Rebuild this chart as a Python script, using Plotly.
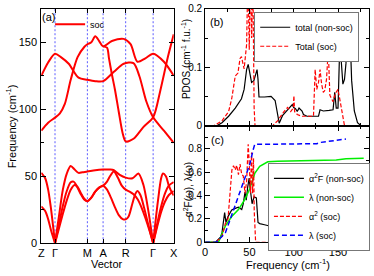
import plotly.graph_objects as go

W, H = 374, 276
FONT = "Liberation Sans, Arial, sans-serif"

# ---------------- Panel (a): phonon band structure (soc) ----------------
K_TICKS = [0, 14, 47, 63, 86, 114, 135]
K_LABELS = ["Z", "Γ", "M", "A", "R", "Γ", "X"]
FREQ_MAX = 175

U1_K = [0, 7, 14, 20, 28, 38, 47, 55, 63, 74, 84, 94, 100, 107, 114, 125, 135]
U1_F = [125, 135, 141.5, 139, 134, 123.6, 122, 121, 121, 128, 134, 134.5, 124.7, 106, 94, 84, 75]

UA_K = [0, 7, 14, 19, 24, 30, 37, 44, 47, 51, 55, 59, 63, 72, 84, 91, 98, 106, 114, 125, 135]
UA_F = [84, 90, 93.8, 97, 104, 122, 139, 146.7, 148.6, 150, 154.5, 151, 147, 151, 152.6, 148.6, 135.5, 138, 141.5, 135.5, 125]

UB_K = [63, 67, 69, 72, 75, 79, 83, 86, 94, 104, 114, 121, 129, 135]
UB_F = [147, 146, 138, 126, 115, 98, 82, 76, 78, 86.7, 94, 113, 139, 156]

L1_K = [0, 4, 7, 9.5, 12, 14, None, 14, 18, 22, 26, 30, 34, 38, 42, 47, 55, 63, 70, 74, 80, 86, 93,
        99, 104, 109, 114, None, 114, 117, 120, 122, 124, 127, 130, 133, 135]
L1_F = [52.6, 48.5, 40, 28, 13, 0, None, 0, 20, 40, 52, 57.6, 55, 52.5, 53, 53.5, 54.5, 55, 55, 54.5, 51, 49, 48.5,
        52, 43.8, 24.7, 0, None, 0, 20, 38, 48, 52, 50, 43, 38, 35.7]

L2_K = [0, 4, 7, 10, 14, None, 14, 18, 22, 26, 30, 33, 36, 40, 44, 47, 51, 55, 59, 63, 67, 70, 74, 78, 82,
        86, 90, 94, 98, 102, 106, 110, 114, None, 114, 118, 122, 126, 130, 135]
L2_F = [27.5, 24, 18, 9.5, 0, None, 0, 14, 28, 39, 45.5, 46, 43, 37, 32.5, 31.4, 34, 38.5, 41.5, 43, 46, 50, 53.5, 49, 43,
        40, 38.5, 36.5, 33, 27, 19, 10, 0, None, 0, 14, 27, 37, 43, 45.7]

L3_K = [14, 18, 22, 26, 30, 34, 37, 41, 44, 47, 51, 55, 59, 63, 67, 71, 75, 79, 83, 86, 89, 93, 96, 98,
        101, 105, 109, 114, None, 114, 118, 122, 126, 130, 135]
L3_F = [0, 11, 22, 32, 40, 43.5, 42, 36.5, 33, 31.4, 34, 38.5, 41.5, 43, 40, 34, 27, 21, 18, 17.8, 20, 30, 37, 39,
        36, 26, 14, 0, None, 0, 12, 23, 31, 36, 39]

BANDS = [(U1_K, U1_F), (UA_K, UA_F), (UB_K, UB_F), (L1_K, L1_F), (L2_K, L2_F), (L3_K, L3_F)]

# ---------------- Panel (b): PDOS ----------------
PDOS_NS_F = [0, 13.6, 19, 26.5, 34, 41, 44, 46.8, 48.6, 51.2, 52.4, 55, 57, 58.6, 59.7, 60.8, 67, 74.4, 79, 82,
             83.6, 87.3, 93, 98.4, 100, 102, 104, 106, 109.4, 111, 115, 122, 128, 129.7, 133.4, 140, 144.4, 146.3,
             148, 150, 151.8, 153.6, 155.5, 157.3, 159, 161.7, 163.5, 165.4, 168.4, 172, 175.7]
PDOS_NS = [0, 0, 0.005, 0.016, 0.030, 0.046, 0.062, 0.096, 0.105, 0.087, 0.074, 0.077, 0.087, 0.096, 0.079, 0.049,
           0.049, 0.050, 0.043, 0.019, 0.004, 0.017, 0.027, 0.036, 0.031, 0.029, 0.024, 0.030, 0.025, 0.019, 0.016,
           0.016, 0.016, 0.027, 0.025, 0.026, 0.027, 0.057, 0.03, 0.03, 0.128, 0.112, 0.071, 0.079, 0.107, 0.19,
           0.162, 0.077, 0.025, 0.005, 0]

PDOS_SOC_F = [0, 10, 19, 26.5, 30, 34, 37, 39.4, 41, 44, 46.8, 48.3, 49.8, 51.2, 52.5, 53.8, 55.3, 56.3, 76.2,
              81.7, 89, 93, 96.6, 99.5, 100.2, 101, 104, 109, 122.3, 124.2, 126, 128, 129.7, 131.5, 133.4, 135,
              137, 139, 140.8, 144.4, 147, 150, 152.5, 155.5, 157.3]
PDOS_SOC = [0, 0, 0.008, 0.024, 0.046, 0.085, 0.090, 0.115, 0.118, 0.097, 0.139, 0.26, 0.13, 0.26, 0.15, 0.26,
            0.03, 0, 0, 0.008, 0.024, 0.031, 0.024, 0.03, 0.051, 0.024, 0.019, 0.016, 0.016, 0.096, 0.062, 0.074,
            0.096, 0.071, 0.057, 0.06, 0.079, 0.131, 0.052, 0.041, 0.055, 0.062, 0.041, 0.019, 0]

# ---------------- Panel (c): Eliashberg function and lambda ----------------
A2F_NS_F = [0, 11.8, 17.3, 19, 22, 23.5, 25.8, 30, 33.9, 37.6, 41.3, 43, 45, 46.4, 48, 49.7, 51, 53, 55.2, 57.8,
            59.7, 61.6, 67, 72.6, 78, 81, 82.5, 85, 93, 100, 110, 120, 130, 137, 144.4, 147.3, 150, 153.6, 156,
            158, 160, 162, 164, 167, 174]
A2F_NS = [0, 0, 0.044, 0.08, 0.255, 0.17, 0.22, 0.277, 0.29, 0.30, 0.28, 0.33, 0.43, 0.36, 0.47, 0.55, 0.45,
          0.33, 0.39, 0.38, 0.17, 0.16, 0.15, 0.14, 0.10, 0.085, 0.01, 0, 0.01, 0.015, 0.01, 0.02, 0.02, 0.025,
          0.035, 0.07, 0.035, 0.05, 0.08, 0.14, 0.22, 0.14, 0.05, 0.02, 0]

LAM_NS_F = [0, 15, 22.8, 30, 37.6, 45, 50.5, 56, 61.6, 70.7, 81.7, 111, 148, 159, 179]
LAM_NS = [0, 0, 0.14, 0.22, 0.28, 0.37, 0.46, 0.59, 0.65, 0.69, 0.695, 0.70, 0.705, 0.715, 0.72]

A2F_SOC_F = [0, 12, 19, 22.8, 25.8, 28.4, 30.2, 32, 34, 35.6, 37.6, 39.4, 41.3, 43, 45, 46.8, 48.6, 49.7, 51.2,
             52.4, 53.5, 54.6, 55.4, 57, 80, 93, 111, 116, 118.6, 121.5, 124, 126.8, 129.7, 131.5, 133.4, 135,
             137, 139, 140.5, 142.6, 146.3, 150, 153.6]
A2F_SOC = [0, 0, 0.05, 0.16, 0.2, 0.415, 0.62, 0.655, 0.62, 0.66, 0.58, 0.67, 0.58, 0.57, 0.42, 0.52, 0.84, 0.69,
           0.42, 0.77, 0.42, 0.72, 0.27, 0, 0, 0.01, 0.02, 0.03, 0.087, 0.1, 0.06, 0.095, 0.075, 0.14, 0.08, 0.035,
           0.06, 0.155, 0.05, 0.045, 0.075, 0.045, 0]

LAM_SOC_F = [0, 12.5, 22.8, 28, 34, 37.6, 41.3, 46.8, 50.5, 54.1, 56, 74.4, 126, 129.7, 159]
LAM_SOC = [0, 0, 0.08, 0.19, 0.32, 0.40, 0.48, 0.58, 0.67, 0.79, 0.84, 0.84, 0.845, 0.855, 0.885]

# ---------------- Figure ----------------
fig = go.Figure()

# dotted guide lines at the inner high-symmetry points (drawn on the data axes)
guide_x, guide_y = [], []
for k in K_TICKS[1:-1]:
    guide_x += [k, k, None]
    guide_y += [0, FREQ_MAX, None]
fig.add_trace(go.Scatter(x=guide_x, y=guide_y, mode="lines", showlegend=False, hoverinfo="skip",
                         line=dict(color="#5c5cff", width=1, dash="2px,2px"), xaxis="x", yaxis="y"))

for i, (k, f) in enumerate(BANDS):
    fig.add_trace(go.Scatter(x=k, y=f, mode="lines", line=dict(color="#ff0000", width=2, shape="spline", smoothing=0.8),
                             name="soc", showlegend=(i == 0), legend="legend",
                             xaxis="x", yaxis="y", hoverinfo="skip"))

fig.add_trace(go.Scatter(x=PDOS_NS_F, y=PDOS_NS, mode="lines", line=dict(color="black", width=1.2),
                         name="total (non-soc)", legend="legend2", xaxis="x2", yaxis="y2"))
fig.add_trace(go.Scatter(x=PDOS_SOC_F, y=PDOS_SOC, mode="lines", line=dict(color="#ff0000", width=1.2, dash="4px,2px"),
                         name="Total (soc)", legend="legend2", xaxis="x2", yaxis="y2"))

fig.add_trace(go.Scatter(x=A2F_NS_F, y=A2F_NS, mode="lines", line=dict(color="black", width=1.2),
                         name="α<sup>2</sup>F (non-soc)", legend="legend3", xaxis="x3", yaxis="y3"))
fig.add_trace(go.Scatter(x=LAM_NS_F, y=LAM_NS, mode="lines", line=dict(color="#00ee00", width=1.5),
                         name="λ (non-soc)", legend="legend3", xaxis="x3", yaxis="y3"))
fig.add_trace(go.Scatter(x=A2F_SOC_F, y=A2F_SOC, mode="lines", line=dict(color="#ff0000", width=1.2, dash="4px,2px"),
                         name="α<sup>2</sup> (soc)", legend="legend3", xaxis="x3", yaxis="y3"))
fig.add_trace(go.Scatter(x=LAM_SOC_F, y=LAM_SOC, mode="lines", line=dict(color="#0000ff", width=1.5, dash="5px,3px"),
                         name="λ (soc)", legend="legend3", xaxis="x3", yaxis="y3"))

def fx(p):
    return p / W

def fy(p):
    return 1 - p / H

axis_common = dict(showline=True, linecolor="black", linewidth=1, mirror="ticks", ticks="inside",
                   tickcolor="black", zeroline=False, showgrid=False, ticklabeloverflow="allow",
                   tickfont=dict(family=FONT, size=11, color="black"))

fig.update_layout(
    width=W, height=H, margin=dict(l=0, r=0, t=0, b=0),
    paper_bgcolor="white", plot_bgcolor="white",
    font=dict(family=FONT, color="black"),
    xaxis=dict(axis_common, domain=[fx(39), fx(174)], range=[0, 135], tickvals=K_TICKS, ticktext=K_LABELS,
               ticklen=4, ticklabelstandoff=0),
    yaxis=dict(axis_common, domain=[fy(248), fy(3)], range=[0, FREQ_MAX], tickvals=[0, 50, 100, 150], ticklen=5,
               minor=dict(ticks="inside", dtick=25, ticklen=3, tickcolor="black"), ticklabelstandoff=1),
    xaxis2=dict(axis_common, domain=[fx(206), fx(373)], range=[0, 185], tickvals=[0, 50, 100, 150],
                showticklabels=False, ticklen=5, anchor="y2",
                minor=dict(ticks="inside", dtick=25, ticklen=3, tickcolor="black")),
    yaxis2=dict(axis_common, domain=[fy(125), fy(3)], range=[0, 0.2], tickvals=[0, 0.1, 0.2],
                ticktext=["0", "0.1", "0.2"], ticklen=5, anchor="x2",
                tickfont=dict(family=FONT, size=10, color="black"),
                minor=dict(ticks="inside", dtick=0.05, ticklen=3, tickcolor="black")),
    xaxis3=dict(axis_common, domain=[fx(206), fx(373)], range=[0, 185], tickvals=[0, 50, 100, 150],
                ticklen=5, anchor="y3", ticklabelstandoff=0,
                minor=dict(ticks="inside", dtick=25, ticklen=3, tickcolor="black")),
    yaxis3=dict(axis_common, domain=[fy(247), fy(125)], range=[0, 1], tickvals=[0, 0.2, 0.4, 0.6, 0.8, 1.0],
                ticktext=["0", "0.2", "0.4", "0.6", "0.8", ""], ticklen=5, anchor="x3",
                tickfont=dict(family=FONT, size=10, color="black"),
                minor=dict(ticks="inside", dtick=0.1, ticklen=3, tickcolor="black")),
    legend=dict(x=fx(48), y=fy(4), xanchor="left", yanchor="top", bgcolor="rgba(0,0,0,0)",
                borderwidth=0, font=dict(family=FONT, size=9, color="black")),
    legend2=dict(x=fx(256), y=fy(6), xanchor="left", yanchor="top", bgcolor="white",
                 bordercolor="#777777", borderwidth=1, font=dict(family=FONT, size=9, color="black"),
                 tracegroupgap=0),
    legend3=dict(x=fx(270), y=fy(164), xanchor="left", yanchor="top", bgcolor="white",
                 bordercolor="#777777", borderwidth=1, font=dict(family=FONT, size=9, color="black"),
                 tracegroupgap=0),
    showlegend=True,
)

ann = [
    dict(text="(a)", x=fx(46), y=fy(11), font=dict(size=11)),
    dict(text="(b)", x=fx(218), y=fy(17), font=dict(size=11)),
    dict(text="(c)", x=fx(219), y=fy(140), font=dict(size=11)),
    dict(text="Frequency (cm<sup>-1</sup>)", x=fx(8), y=fy(126), textangle=-90, font=dict(size=11)),
    dict(text="Vector", x=fx(106), y=fy(269.5), font=dict(size=11)),
    dict(text="Frequency (cm<sup>-1</sup>)", x=fx(290), y=fy(269.5), font=dict(size=11)),
    dict(text="PDOS (cm<sup>-1</sup> f.u.<sup>-1</sup>)", x=fx(186), y=fy(56), textangle=-90, font=dict(size=10)),
    dict(text="α<sup>2</sup>F(ω), λ(ω)", x=fx(188), y=fy(192), textangle=-90, font=dict(size=10)),
]
for a in ann:
    a.update(xref="paper", yref="paper", showarrow=False, xanchor="center", yanchor="middle")
    a["font"] = dict(family=FONT, color="black", size=a["font"]["size"])
fig.update_layout(annotations=ann)

fig.write_html("out.html", config={"displayModeBar": False},
               post_script="document.body.style.margin='0';document.body.style.padding='0';document.body.style.overflow='hidden';")
